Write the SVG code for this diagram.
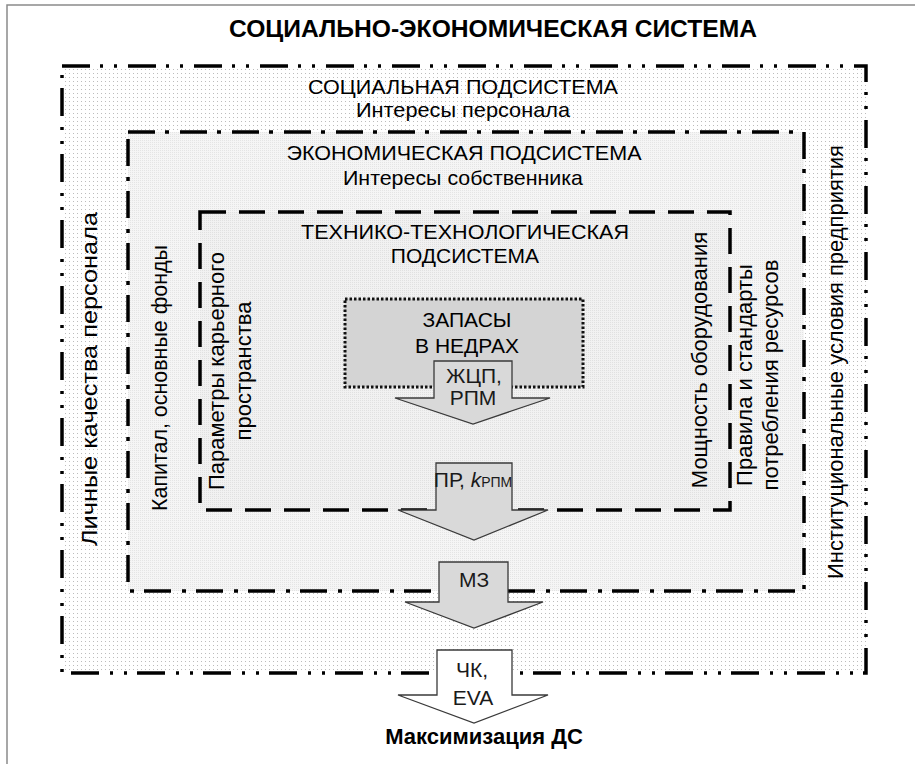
<svg xmlns="http://www.w3.org/2000/svg" width="915" height="764" viewBox="0 0 915 764">
<style>
text{font-family:"Liberation Sans",Arial,sans-serif;fill:#000;}
.t{font-size:21px;text-anchor:middle;}
.v{font-size:22px;text-anchor:middle;}
.al{font-size:21px;text-anchor:middle;fill:#1a1a1a;}
.b{font-weight:bold;text-anchor:middle;}
.frame{stroke:#000;stroke-width:3.5;}
.arrow{fill:#d9d9d9;stroke:#3a3a3a;stroke-width:1.3;stroke-linejoin:miter;}
</style>
<defs>
<pattern id="dots" width="4" height="4" patternUnits="userSpaceOnUse"><rect width="4" height="4" fill="#ffffff"/><rect x="1" y="1" width="1" height="1" fill="#bcbcbc"/></pattern>
<pattern id="fineE" width="2" height="2" patternUnits="userSpaceOnUse"><rect width="2" height="2" fill="#f5f5f5"/><rect width="1" height="1" fill="#e4e4e4"/></pattern>
<pattern id="fineT" width="2" height="2" patternUnits="userSpaceOnUse"><rect width="2" height="2" fill="#f1f1f1"/><rect width="1" height="1" fill="#e0e0e0"/></pattern>
</defs>
<rect width="915" height="764" fill="#fff"/>
<path d="M7 764 V5 H915" fill="none" stroke="#8a8a8a" stroke-width="1.5"/>
<text class="b" x="493" y="37" font-size="23" textLength="528" lengthAdjust="spacingAndGlyphs">СОЦИАЛЬНО-ЭКОНОМИЧЕСКАЯ СИСТЕМА</text>

<g id="social">
<rect class="frame" x="62" y="66" width="804" height="607" fill="url(#dots)" stroke-dasharray="28 10 3 11 3 11"/>
<text class="t" x="463" y="94" textLength="310" lengthAdjust="spacingAndGlyphs">СОЦИАЛЬНАЯ ПОДСИСТЕМА</text>
<text class="t" x="463" y="117" textLength="214" lengthAdjust="spacingAndGlyphs">Интересы персонала</text>
<text class="v" transform="translate(97,379) rotate(-90)" textLength="334" lengthAdjust="spacingAndGlyphs">Личные качества персонала</text>
<text class="v" transform="translate(843,362) rotate(-90)" textLength="434" lengthAdjust="spacingAndGlyphs">Институциональные условия предприятия</text>
</g>

<g id="economic">
<rect class="frame" x="128" y="132" width="676" height="459" fill="url(#fineE)" stroke-dasharray="27 10 4 11"/>
<text class="t" x="464" y="160" textLength="355" lengthAdjust="spacingAndGlyphs">ЭКОНОМИЧЕСКАЯ ПОДСИСТЕМА</text>
<text class="t" x="463" y="185" textLength="240" lengthAdjust="spacingAndGlyphs">Интересы собственника</text>
<text class="v" transform="translate(167,378) rotate(-90)" textLength="266" lengthAdjust="spacingAndGlyphs">Капитал, основные фонды</text>
<text class="v" transform="translate(752,375) rotate(-90)">Правила и стандарты</text>
<text class="v" transform="translate(778,375) rotate(-90)">потребления ресурсов</text>
</g>

<g id="technical">
<rect class="frame" x="200" y="212" width="530" height="298" fill="url(#fineT)" stroke-dasharray="26 13"/>
<text class="t" x="465" y="239" textLength="328" lengthAdjust="spacingAndGlyphs">ТЕХНИКО-ТЕХНОЛОГИЧЕСКАЯ</text>
<text class="t" x="465" y="263">ПОДСИСТЕМА</text>
<text class="v" transform="translate(224,371) rotate(-90)">Параметры карьерного</text>
<text class="v" transform="translate(251,371) rotate(-90)">пространства</text>
<text class="v" transform="translate(707,360) rotate(-90)">Мощность оборудования</text>
</g>

<g id="reserves">
<rect x="345" y="299" width="238" height="88" fill="#d4d4d4" stroke="#111" stroke-width="3" stroke-dasharray="2.5 2"/>
<text class="t" x="467" y="327" font-size="22">ЗАПАСЫ</text>
<text class="t" x="467" y="353" font-size="22">В НЕДРАХ</text>
</g>

<g id="connectors">
<g id="arrow-zhcp">
<polygon class="arrow" points="434,361 512,361 512,398 550,398 473,424 395,398 434,398"/>
<text class="al" x="474" y="383">ЖЦП,</text>
<text class="al" x="473" y="405">РПМ</text>
</g>
<g id="arrow-pr">
<polygon class="arrow" points="436,463 512,463 512,510 548,510 474,540 398,510 436,510"/>
<text class="al" x="473" y="487">ПР, <tspan font-style="italic">k</tspan><tspan font-size="14">РПМ</tspan></text>
</g>
<g id="arrow-mz">
<polygon class="arrow" points="439,562 508,562 508,602 543,602 474,628 405,602 439,602"/>
<text class="al" x="474" y="587" font-size="23">МЗ</text>
</g>
<g id="arrow-chk">
<polygon class="arrow" style="fill:#ffffff" points="437,650 512,650 512,695 548,695 474,723 398,695 437,695"/>
<text class="al" x="472" y="677" font-size="23">ЧК,</text>
<text class="al" x="473" y="705" font-size="23">EVA</text>
</g>
</g>

<g id="result">
<text class="b" x="484" y="744" font-size="22">Максимизация ДС</text>
</g>
</svg>
